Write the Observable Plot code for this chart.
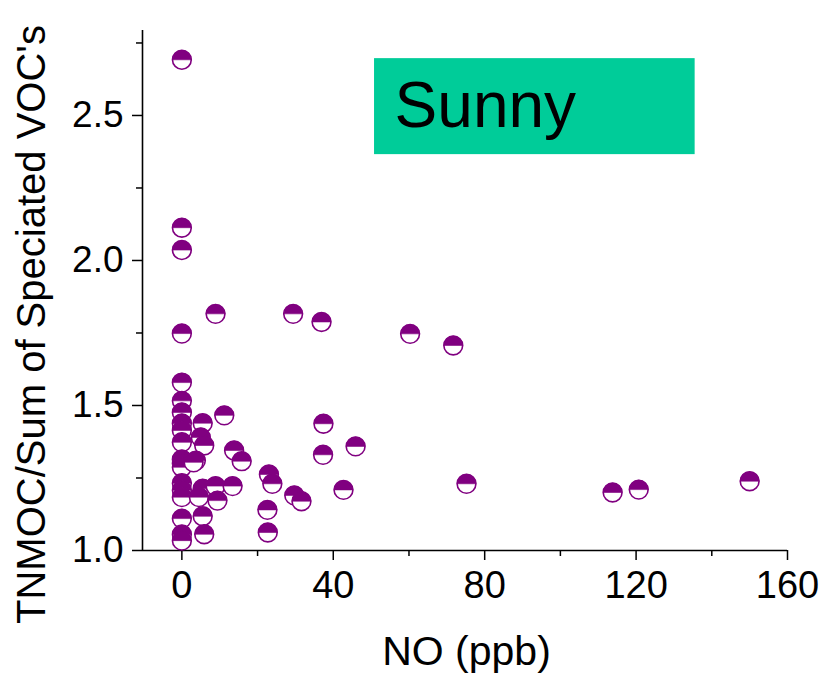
<!DOCTYPE html>
<html>
<head>
<meta charset="utf-8">
<script src="https://cdn.jsdelivr.net/npm/d3@7"></script>
<script src="https://cdn.jsdelivr.net/npm/@observablehq/plot@0.6"></script>
<style>
  body { margin: 0; background: #fff; }
</style>
</head>
<body>
<div id="chart"></div>
<script>
// NO (ppb) values
const noPpb = [
  0, 0, 0, 0, 0, 0, 0, 0, 0, 0, 0, 0, 0, 0, 0, 0, 0, 0, 0,
  8.9, 5.5, 11.2, 5.0, 5.9, 3.7, 3.1, 13.8, 15.8,
  5.5, 8.9, 13.4, 4.5, 9.4, 5.5, 5.9,
  29.4, 36.9, 60.3, 71.7, 37.4, 37.3, 45.9, 23.0, 23.9, 29.7, 31.6,
  42.7, 75.2, 22.6, 22.7, 113.8, 120.7, 150.0
];
// TNMOC / Sum of speciated VOC's
const ratio = [
  2.692, 2.113, 2.036, 1.748, 1.579, 1.516, 1.476, 1.438, 1.414, 1.373, 1.314, 1.300, 1.287, 1.232, 1.208, 1.184, 1.110, 1.055, 1.034,
  1.816, 1.439, 1.466, 1.390, 1.362, 1.310, 1.304, 1.345, 1.308,
  1.213, 1.222, 1.222, 1.184, 1.172, 1.118, 1.056,
  1.816, 1.788, 1.747, 1.707, 1.437, 1.330, 1.359, 1.262, 1.230, 1.190, 1.170,
  1.209, 1.230, 1.140, 1.062, 1.200, 1.210, 1.239
];
const xMajorTicks = [0, 40, 80, 120, 160];
const xMinorTicks = [20, 60, 100, 140];
const yMajorTicks = [1.0, 1.5, 2.0, 2.5];
const yMinorTicks = [1.25, 1.75, 2.25, 2.75];
const xLabel = "NO (ppb)";
const yLabel = "TNMOC/Sum of Speciated VOC's";
const annotation = [{label: "Sunny", x1: 50.9, x2: 135.6, y1: 2.365, y2: 2.696, tx: 56.2, ty: 2.53}];

const points = noPpb.map((x, i) => ({x, y: ratio[i]}));

const purple = "#800080";
const halfTop = {
  draw(context, size) {
    const r = Math.sqrt(size / Math.PI);
    context.moveTo(-r, 0);
    context.arc(0, 0, r, Math.PI, 2 * Math.PI);
    context.closePath();
  }
};

const pointMarks = points.flatMap(p => [
  Plot.dot([p], {x: "x", y: "y", r: 9.4, fill: "white", stroke: purple, strokeWidth: 1.6}),
  Plot.dot([p], {x: "x", y: "y", r: 9.4, symbol: halfTop, fill: purple, stroke: purple, strokeWidth: 0.6})
]);

const chart = Plot.plot({
  width: 824,
  height: 674,
  marginLeft: 142,
  marginRight: 37,
  marginTop: 30,
  marginBottom: 124,
  style: {fontFamily: "'Liberation Sans', Arial, sans-serif", background: "white", color: "black"},
  x: {domain: [-10.4, 160]},
  y: {domain: [1.0, 2.793]},
  marks: [
    Plot.rect(annotation, {x1: "x1", x2: "x2", y1: "y1", y2: "y2", fill: "#00CC99"}),
    Plot.text(annotation, {x: "tx", y: "ty", text: "label", textAnchor: "start", fontSize: 64, fill: "black"}),
    Plot.axisX({ticks: xMajorTicks, tickSize: 10, tickPadding: 11, fontSize: 38, strokeWidth: 1.5, label: null, tickFormat: d3.format("d")}),
    Plot.axisX({ticks: xMinorTicks, tickSize: 6, text: null, strokeWidth: 1.5, label: null}),
    Plot.axisY({ticks: yMajorTicks, tickSize: 10, tickPadding: 9, fontSize: 37, strokeWidth: 1.5, label: null, tickFormat: d3.format(".1f")}),
    Plot.axisY({ticks: yMinorTicks, tickSize: 6, text: null, strokeWidth: 1.5, label: null}),
    Plot.ruleY([1.0], {stroke: "black", strokeWidth: 1.6}),
    Plot.ruleX([-10.4], {stroke: "black", strokeWidth: 1.6}),
    Plot.text([xLabel], {frameAnchor: "bottom", textAnchor: "middle", lineAnchor: "bottom", dy: 114, dx: 1.5, fontSize: 41, fill: "black"}),
    Plot.text([yLabel], {frameAnchor: "left", textAnchor: "middle", rotate: -90, lineAnchor: "bottom", dx: -98, dy: 34, fontSize: 40, fill: "black"}),
    ...pointMarks
  ]
});
document.getElementById("chart").appendChild(chart);
</script>
</body>
</html>
